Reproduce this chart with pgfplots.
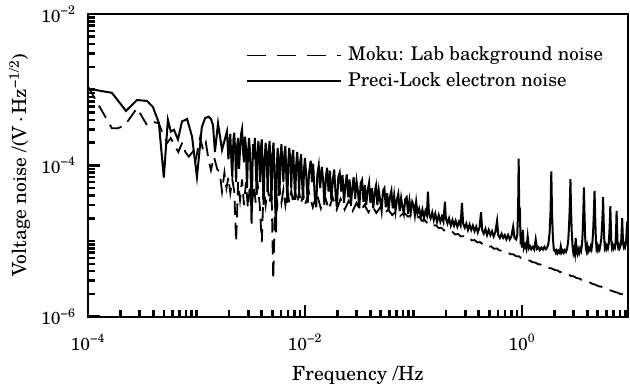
\documentclass[border=0pt]{standalone}
\usepackage{pgfplots}
\pgfplotsset{compat=1.18}
\usepackage{pgfplotstable}
\usepackage{fontspec}
\setmainfont{texgyreschola-regular.otf}[BoldFont=texgyreschola-bold.otf, ItalicFont=texgyreschola-italic.otf, BoldItalicFont=texgyreschola-bolditalic.otf]

\pgfdeclareplotmark{tickup}{\pgfpathmoveto{\pgfpoint{0bp}{0bp}}\pgfpathlineto{\pgfpoint{0bp}{3.5bp}}\pgfusepathqstroke}
\pgfdeclareplotmark{tickupmajor}{\pgfpathmoveto{\pgfpoint{0bp}{0bp}}\pgfpathlineto{\pgfpoint{0bp}{6bp}}\pgfusepathqstroke}
\pgfdeclareplotmark{tickright}{\pgfpathmoveto{\pgfpoint{0bp}{0bp}}\pgfpathlineto{\pgfpoint{3.5bp}{0bp}}\pgfusepathqstroke}
\pgfdeclareplotmark{tickrightmajor}{\pgfpathmoveto{\pgfpoint{0bp}{0bp}}\pgfpathlineto{\pgfpoint{6bp}{0bp}}\pgfusepathqstroke}

\pgfplotstableread{
f v
1.00e-4 1.03e-3
1.66e-4 9.1e-4
2.24e-4 5.25e-4
2.83e-4 7.3e-4
3.50e-4 7.1e-4
3.97e-4 5.9e-4
4.50e-4 3.65e-4
5.00e-4 6.9e-5
5.45e-4 4.0e-4
5.80e-4 2.8e-4
6.20e-4 2.95e-4
6.75e-4 2.2e-4
7.35e-4 3.8e-4
8.20e-4 4.1e-4
9.10e-4 2.4e-4
1.01e-3 7.0e-5
1.12e-3 3.2e-4
1.20e-3 4.2e-4
1.29e-3 4.4e-4
1.36e-3 4.1e-4
1.42e-3 3.4e-4
1.48e-3 1.5e-4
1.58e-3 3.6e-4
1.72e-3 1.6e-4
1.91e-3 2.8e-4
1.97e-3 1.2e-4
2.01e-3 1.9e-4
2.05e-3 2.6e-4
2.10e-3 1.1e-4
2.14e-3 7e-5
2.19e-3 2.2e-4
2.23e-3 2.7e-4
2.28e-3 1.4e-4
2.32e-3 6e-5
2.37e-3 1.8e-4
2.42e-3 2.3e-4
2.47e-3 9e-5
2.52e-3 1.6e-4
2.58e-3 2.6e-4
2.63e-3 3.0e-4
2.69e-3 1.5e-4
2.74e-3 1.1e-4
2.80e-3 2.4e-4
2.86e-3 1.7e-4
2.92e-3 5e-5
2.98e-3 1.3e-4
3.05e-3 2.3e-4
3.11e-3 1.6e-4
3.17e-3 6e-5
3.22e-3 1.7e-5
3.28e-3 9e-5
3.33e-3 1.9e-4
3.39e-3 1.2e-4
3.45e-3 2.3e-4
3.52e-3 1.0e-4
3.58e-3 4.5e-5
3.65e-3 1.3e-4
3.72e-3 2.1e-4
3.79e-3 1.5e-4
3.86e-3 6e-5
3.93e-3 1.7e-4
4.00e-3 2.2e-4
4.08e-3 8e-5
4.16e-3 3.0e-5
4.25e-3 1.2e-4
4.34e-3 2.0e-4
4.43e-3 1.3e-4
4.53e-3 4.5e-5
4.62e-3 1.5e-4
4.72e-3 2.1e-4
4.82e-3 9e-5
4.92e-3 3.5e-5
5.02e-3 1.4e-4
5.13e-3 2.0e-4
5.26e-3 7e-5
5.40e-3 1.3e-5
5.50e-3 9e-5
5.60e-3 1.7e-4
5.71e-3 1.1e-4
5.82e-3 4e-5
5.94e-3 1.2e-4
6.07e-3 1.9e-4
6.20e-3 1.0e-4
6.33e-3 6e-5
6.46e-3 1.4e-4
6.60e-3 1.8e-4
6.74e-3 7e-5
6.88e-3 3.2e-5
7.02e-3 1.1e-4
7.17e-3 1.7e-4
7.32e-3 1.2e-4
7.48e-3 5e-5
7.64e-3 1.3e-4
7.80e-3 1.6e-4
7.96e-3 7e-5
8.13e-3 3.5e-5
8.30e-3 1.0e-4
8.48e-3 1.5e-4
8.66e-3 9e-5
8.84e-3 4.5e-5
9.03e-3 1.1e-4
9.22e-3 1.4e-4
9.41e-3 6e-5
9.61e-3 3.5e-5
9.81e-3 9e-5
1.00e-2 1.25e-4
1.03e-2 7e-5
1.06e-2 3.2e-5
1.09e-2 8e-5
1.13e-2 1.15e-4
1.16e-2 6e-5
1.19e-2 1.05e-4
1.23e-2 4e-5
1.27e-2 2.8e-5
1.30e-2 7.5e-5
1.34e-2 1.0e-4
1.38e-2 5e-5
1.43e-2 9.5e-5
1.47e-2 6.5e-5
1.51e-2 3.0e-5
1.56e-2 7e-5
1.60e-2 9.3e-5
1.65e-2 4.5e-5
1.70e-2 8.5e-5
1.75e-2 3.5e-5
1.81e-2 6.5e-5
1.86e-2 8.8e-5
1.92e-2 4.0e-5
1.97e-2 2.8e-5
2.03e-2 7.0e-5
2.09e-2 8.0e-5
2.16e-2 4.5e-5
2.22e-2 7.5e-5
2.29e-2 3.2e-5
2.36e-2 5.5e-5
2.43e-2 7.6e-5
2.50e-2 3.8e-5
2.58e-2 6.5e-5
2.65e-2 2.9e-5
2.73e-2 5.0e-5
2.81e-2 7.0e-5
2.90e-2 3.6e-5
2.99e-2 6.2e-5
3.08e-2 4.5e-5
3.17e-2 2.7e-5
3.26e-2 5.8e-5
3.36e-2 6.4e-5
3.46e-2 3.3e-5
3.57e-2 5.5e-5
3.67e-2 3.0e-5
3.78e-2 4.6e-5
3.90e-2 5.9e-5
4.01e-2 3.2e-5
4.13e-2 5.0e-5
4.26e-2 2.7e-5
4.39e-2 4.4e-5
4.52e-2 5.4e-5
4.65e-2 3.0e-5
4.79e-2 4.7e-5
4.94e-2 3.4e-5
5.09e-2 2.5e-5
5.24e-2 4.6e-5
5.40e-2 5.0e-5
5.56e-2 2.8e-5
5.72e-2 4.3e-5
5.90e-2 2.6e-5
6.07e-2 3.8e-5
6.26e-2 4.6e-5
6.44e-2 2.7e-5
6.64e-2 4.0e-5
6.84e-2 2.5e-5
7.04e-2 3.5e-5
7.25e-2 4.2e-5
7.47e-2 2.5e-5
7.70e-2 3.7e-5
7.93e-2 2.8e-5
8.16e-2 2.3e-5
8.41e-2 3.6e-5
8.66e-2 3.8e-5
8.92e-2 2.3e-5
9.19e-2 3.4e-5
9.46e-2 2.4e-5
9.75e-2 3.3e-5
0.100 3.0e-5
0.103 2.2e-5
0.106 3.3e-5
0.109 2.3e-5
0.113 2.7e-5
0.117 2.1e-5
0.121 2.6e-5
0.125 2.0e-5
0.129 2.5e-5
0.133 2.2e-5
0.136 4.5e-5
0.139 2.3e-5
0.144 2.0e-5
0.149 2.4e-5
0.154 1.9e-5
0.159 2.3e-5
0.165 1.8e-5
0.171 2.2e-5
0.177 1.8e-5
0.183 2.1e-5
0.189 1.8e-5
0.195 3.3e-5
0.199 2.0e-5
0.206 1.7e-5
0.213 2.0e-5
0.221 1.6e-5
0.229 1.9e-5
0.237 1.6e-5
0.245 1.85e-5
0.254 1.55e-5
0.263 1.8e-5
0.272 1.6e-5
0.280 3.2e-5
0.287 1.7e-5
0.297 1.5e-5
0.307 1.7e-5
0.318 1.4e-5
0.329 1.65e-5
0.341 1.4e-5
0.353 1.6e-5
0.366 1.35e-5
0.379 1.55e-5
0.392 1.3e-5
0.406 1.5e-5
0.420 2.4e-5
0.430 1.4e-5
0.445 1.25e-5
0.461 1.45e-5
0.477 1.2e-5
0.494 1.4e-5
0.512 1.2e-5
0.530 1.35e-5
0.549 1.15e-5
0.568 1.3e-5
0.590 1.85e-5
0.605 1.2e-5
0.626 1.1e-5
0.649 1.25e-5
0.672 1.1e-5
0.695 1.2e-5
0.720 1.05e-5
0.746 1.2e-5
0.772 1.05e-5
0.800 1.15e-5
0.830 1.55e-5
0.855 1.1e-5
0.885 1.05e-5
0.905 1.2e-5
0.915 1.8e-5
0.925 3.8e-5
0.933 1.23e-4
0.942 3.5e-5
0.950 2.0e-5
0.958 2.75e-5
0.966 1.4e-5
0.975 9.0e-6
0.990 1.1e-5
1.00 8.2e-6
1.02 1.4e-5
1.04 8.0e-6
1.07 9.0e-6
1.10 7.8e-6
1.13 1.15e-5
1.16 8.0e-6
1.19 8.5e-6
1.22 7.8e-6
1.26 8.4e-6
1.30 7.7e-6
1.34 1.05e-5
1.38 7.9e-6
1.42 8.3e-6
1.46 7.6e-6
1.51 8.2e-6
1.56 7.7e-6
1.61 8.4e-6
1.66 7.8e-6
1.71 8.2e-6
1.76 9.5e-6
1.80 1.3e-5
1.838 2.6e-5
1.866 8.3e-5
1.894 2.4e-5
1.93 1.1e-5
1.97 7.6e-6
2.01 7.6e-6
2.05 7.0e-6
2.09 7.5e-6
2.13 6.9e-6
2.18 7.4e-6
2.23 7.0e-6
2.28 8.5e-6
2.33 7.1e-6
2.38 7.5e-6
2.43 7.0e-6
2.49 7.6e-6
2.55 7.2e-6
2.61 8.0e-6
2.67 1.0e-5
2.72 1.6e-5
2.76 2.8e-5
2.80 6.6e-5
2.84 2.4e-5
2.88 1.3e-5
2.93 8.5e-6
2.98 7.0e-6
3.03 7.8e-6
3.08 6.8e-6
3.13 1.1e-5
3.18 7.2e-6
3.24 6.7e-6
3.30 7.8e-6
3.37 7.0e-6
3.44 8.0e-6
3.51 7.4e-6
3.58 9.0e-6
3.63 1.3e-5
3.68 2.4e-5
3.73 5.1e-5
3.78 2.1e-5
3.83 1.1e-5
3.89 8.0e-6
3.95 7.3e-6
4.01 8.5e-6
4.08 7.4e-6
4.15 8.0e-6
4.22 7.6e-6
4.30 8.5e-6
4.38 7.8e-6
4.46 9.5e-6
4.53 1.3e-5
4.60 2.3e-5
4.67 4.6e-5
4.74 2.0e-5
4.80 1.1e-5
4.87 8.0e-6
4.94 8.6e-6
5.02 7.6e-6
5.11 8.4e-6
5.20 7.8e-6
5.30 9.0e-6
5.40 1.1e-5
5.48 1.6e-5
5.55 2.4e-5
5.60 3.8e-5
5.66 2.0e-5
5.73 1.1e-5
5.81 8.2e-6
5.90 8.8e-6
5.99 7.9e-6
6.09 8.6e-6
6.20 8.0e-6
6.31 9.2e-6
6.40 1.3e-5
6.47 1.9e-5
6.53 2.9e-5
6.59 1.8e-5
6.66 1.0e-5
6.76 8.2e-6
6.86 8.8e-6
6.97 8.0e-6
7.08 8.6e-6
7.20 8.2e-6
7.31 9.8e-6
7.39 1.5e-5
7.46 2.5e-5
7.53 1.5e-5
7.61 9.5e-6
7.72 8.2e-6
7.84 8.8e-6
7.97 8.1e-6
8.10 8.7e-6
8.21 9.6e-6
8.31 1.4e-5
8.40 2.0e-5
8.48 1.3e-5
8.57 9.2e-6
8.68 8.4e-6
8.80 8.9e-6
8.93 8.3e-6
9.05 9.0e-6
9.17 1.1e-5
9.26 1.5e-5
9.33 1.8e-5
9.41 1.2e-5
9.50 9.5e-6
}\solidtab

\pgfplotstableread{
f v
1.00e-4 1.1e-3
1.66e-4 3.1e-4
1.89e-4 3.1e-4
2.19e-4 3.4e-4
2.83e-4 5.7e-4
3.50e-4 3.4e-4
4.00e-4 3.75e-4
4.50e-4 3.6e-4
5.00e-4 2.4e-4
5.40e-4 2.0e-4
5.80e-4 2.3e-4
6.20e-4 1.9e-4
6.80e-4 1.5e-4
7.40e-4 2.0e-4
7.90e-4 1.5e-4
8.50e-4 1.3e-4
9.20e-4 1.5e-4
9.80e-4 1.15e-4
1.08e-3 2.3e-4
1.15e-3 1.6e-4
1.22e-3 2.0e-4
1.29e-3 1.2e-4
1.36e-3 8.6e-5
1.45e-3 1.3e-4
1.55e-3 9e-5
1.64e-3 8e-5
1.72e-3 4.5e-5
1.81e-3 8e-5
1.89e-3 5e-5
1.97e-3 7e-5
2.05e-3 4.3e-5
2.14e-3 6.5e-5
2.23e-3 4.5e-5
2.32e-3 9.7e-6
2.42e-3 6e-5
2.52e-3 3.5e-5
2.63e-3 6.5e-5
2.74e-3 3.0e-5
2.86e-3 6e-5
2.98e-3 2.7e-5
3.11e-3 5.5e-5
3.24e-3 2.8e-5
3.38e-3 5.5e-5
3.52e-3 3.2e-5
3.67e-3 5.5e-5
3.83e-3 3.0e-5
4.00e-3 9.7e-6
4.16e-3 5.2e-5
4.34e-3 3.0e-5
4.53e-3 5.2e-5
4.72e-3 3.2e-5
4.92e-3 5.0e-5
5.10e-3 3.1e-6
5.35e-3 4.8e-5
5.58e-3 3.0e-5
5.82e-3 5.0e-5
6.07e-3 3.2e-5
6.33e-3 4.8e-5
6.60e-3 3.0e-5
6.88e-3 4.8e-5
7.17e-3 3.2e-5
7.48e-3 4.6e-5
7.80e-3 3.1e-5
8.13e-3 4.5e-5
8.48e-3 3.2e-5
8.84e-3 4.4e-5
9.22e-3 3.1e-5
9.61e-3 4.3e-5
1.00e-2 3.0e-5
1.09e-2 4.4e-5
1.18e-2 2.8e-5
1.29e-2 4.2e-5
1.40e-2 2.7e-5
1.52e-2 4.0e-5
1.66e-2 2.6e-5
1.80e-2 3.8e-5
1.96e-2 2.6e-5
2.13e-2 3.6e-5
2.32e-2 2.6e-5
2.53e-2 3.4e-5
2.75e-2 2.5e-5
2.99e-2 3.2e-5
3.25e-2 2.5e-5
3.54e-2 3.0e-5
3.85e-2 2.4e-5
4.19e-2 2.9e-5
4.55e-2 2.35e-5
4.95e-2 2.8e-5
5.39e-2 2.3e-5
5.86e-2 2.6e-5
6.38e-2 2.2e-5
6.94e-2 2.5e-5
7.54e-2 2.15e-5
8.21e-2 2.35e-5
8.93e-2 2.1e-5
9.71e-2 2.25e-5
0.100 2.15e-5
0.107 2.0e-5
0.113 2.1e-5
0.120 1.85e-5
0.127 1.9e-5
0.135 1.7e-5
0.143 1.75e-5
0.152 1.6e-5
0.161 1.62e-5
0.171 1.48e-5
0.181 1.5e-5
0.192 1.38e-5
0.204 1.4e-5
0.216 1.3e-5
0.229 1.32e-5
0.243 1.22e-5
0.258 1.24e-5
0.273 1.15e-5
0.290 1.16e-5
0.307 1.08e-5
0.326 1.1e-5
0.345 1.02e-5
0.366 1.03e-5
0.389 9.6e-6
0.412 9.7e-6
0.437 9.0e-6
0.463 9.1e-6
0.491 8.4e-6
0.521 8.5e-6
0.552 7.9e-6
0.586 8.0e-6
0.621 7.5e-6
0.658 7.5e-6
0.698 7.1e-6
0.740 7.1e-6
0.785 6.7e-6
0.832 6.7e-6
0.882 6.3e-6
0.935 6.3e-6
0.992 5.9e-6
1.05 5.9e-6
1.12 5.55e-6
1.18 5.55e-6
1.25 5.25e-6
1.33 5.2e-6
1.41 4.95e-6
1.49 4.9e-6
1.58 4.65e-6
1.68 4.6e-6
1.78 4.4e-6
1.88 4.35e-6
2.00 4.15e-6
2.12 4.1e-6
2.24 3.9e-6
2.38 3.85e-6
2.52 3.7e-6
2.67 3.65e-6
2.83 3.45e-6
3.00 3.42e-6
3.18 3.25e-6
3.37 3.2e-6
3.57 3.05e-6
3.79 3.0e-6
4.01 2.87e-6
4.25 2.82e-6
4.51 2.7e-6
4.78 2.65e-6
5.07 2.53e-6
5.37 2.5e-6
5.69 2.38e-6
6.03 2.35e-6
6.40 2.24e-6
6.78 2.2e-6
7.19 2.12e-6
7.62 2.08e-6
8.08 2.0e-6
8.56 1.98e-6
9.08 1.92e-6
9.50 1.9e-6
}\dashtab

\begin{document}
\begin{tikzpicture}
\begin{axis}[
  name=ax,
  scale only axis,
  width=270bp, height=151.35bp,
  xmode=log, ymode=log,
  xmin=1e-4, xmax=9.5, ymin=1e-6, ymax=1e-2,
  clip marker paths=false,
  axis line style={line width=1.2bp},
  xtick={1e-4,1e-2,1},
  xticklabels={10\textsuperscript{−4},10\textsuperscript{−2},10\textsuperscript{0}},
  ytick={1e-6,1e-4,1e-2},
  yticklabels={10\textsuperscript{−6},10\textsuperscript{−4},10\textsuperscript{−2}},
  xtick pos=bottom, ytick pos=left,
  tick align=inside,
  major tick length=6bp, minor tick length=3.5bp,
  tick style={black, line width=1.3bp},
  tick label style={font=\fontsize{8.8}{10}\selectfont},
  xticklabel style={yshift=-5bp},
  yticklabel style={xshift=-2.5bp},
  xlabel={Frequency /Hz},
  ylabel={Voltage noise /(V\,·\,Hz\textsuperscript{−1/2})},
  label style={font=\fontsize{9.8}{11}\selectfont},
  xlabel style={at={([yshift=-29.2bp]axis description cs:0.5,0)}, anchor=center},
  ylabel style={at={([xshift=-34.25bp]axis description cs:0,0.5)}, anchor=center},
  legend image code/.code={\draw[#1] (0bp,0bp) -- (47bp,0bp);},
  legend cell align=left,
  legend style={draw=none, fill=none, font=\fontsize{9.5}{11}\selectfont,
    at={(axis description cs:0,1)}, anchor=north west, xshift=76bp, yshift=-12.2bp,
    nodes={inner xsep=3bp, inner ysep=2.1bp}},
]
\addplot[black, line width=0.9bp, dash pattern=on 7bp off 4bp, forget plot] table[x=f,y=v] {\dashtab};
\addplot[black, line width=1bp, forget plot] table[x=f,y=v] {\solidtab};
% axis tick marks, drawn as markers on the axis edges
\addplot[only marks, mark=tickup, mark options={black, line width=1.3bp}, forget plot] coordinates {
(2e-4,1e-6) (3e-4,1e-6) (4e-4,1e-6) (5e-4,1e-6) (6e-4,1e-6) (7e-4,1e-6) (8e-4,1e-6) (9e-4,1e-6)
(1e-3,1e-6) (2e-3,1e-6) (3e-3,1e-6) (4e-3,1e-6) (5e-3,1e-6) (6e-3,1e-6) (7e-3,1e-6) (8e-3,1e-6) (9e-3,1e-6)
(2e-2,1e-6) (3e-2,1e-6) (4e-2,1e-6) (5e-2,1e-6) (6e-2,1e-6) (7e-2,1e-6) (8e-2,1e-6) (9e-2,1e-6)
(0.1,1e-6) (0.2,1e-6) (0.3,1e-6) (0.4,1e-6) (0.5,1e-6) (0.6,1e-6) (0.7,1e-6) (0.8,1e-6) (0.9,1e-6)
(2,1e-6) (3,1e-6) (4,1e-6) (5,1e-6) (6,1e-6) (7,1e-6) (8,1e-6) (9,1e-6)
};
\addplot[only marks, mark=tickupmajor, mark options={black, line width=1.3bp}, forget plot] coordinates {
(1e-2,1e-6) (1,1e-6)
};
\addplot[only marks, mark=tickright, mark options={black, line width=1.3bp}, forget plot] coordinates {
(1e-4,2e-6) (1e-4,3e-6) (1e-4,4e-6) (1e-4,5e-6) (1e-4,6e-6) (1e-4,7e-6) (1e-4,8e-6) (1e-4,9e-6) (1e-4,1e-5)
(1e-4,2e-5) (1e-4,3e-5) (1e-4,4e-5) (1e-4,5e-5) (1e-4,6e-5) (1e-4,7e-5) (1e-4,8e-5) (1e-4,9e-5)
(1e-4,2e-4) (1e-4,3e-4) (1e-4,4e-4) (1e-4,5e-4) (1e-4,6e-4) (1e-4,7e-4) (1e-4,8e-4) (1e-4,9e-4) (1e-4,1e-3)
(1e-4,2e-3) (1e-4,3e-3) (1e-4,4e-3) (1e-4,5e-3) (1e-4,6e-3) (1e-4,7e-3) (1e-4,8e-3) (1e-4,9e-3)
};
\addplot[only marks, mark=tickrightmajor, mark options={black, line width=1.3bp}, forget plot] coordinates {
(1e-4,1e-4)
};
\addlegendimage{black, line width=0.9bp, dash pattern=on 9.5bp off 5.5bp}
\addlegendentry{Moku: Lab background noise}
\addlegendimage{black, line width=0.9bp}
\addlegendentry{Preci-Lock electron noise}
\end{axis}
\pgfresetboundingbox
\path[use as bounding box] ([xshift=-44bp,yshift=-35.65bp]ax.south west) rectangle ([xshift=1bp,yshift=7bp]ax.north east);
\end{tikzpicture}
\end{document}
